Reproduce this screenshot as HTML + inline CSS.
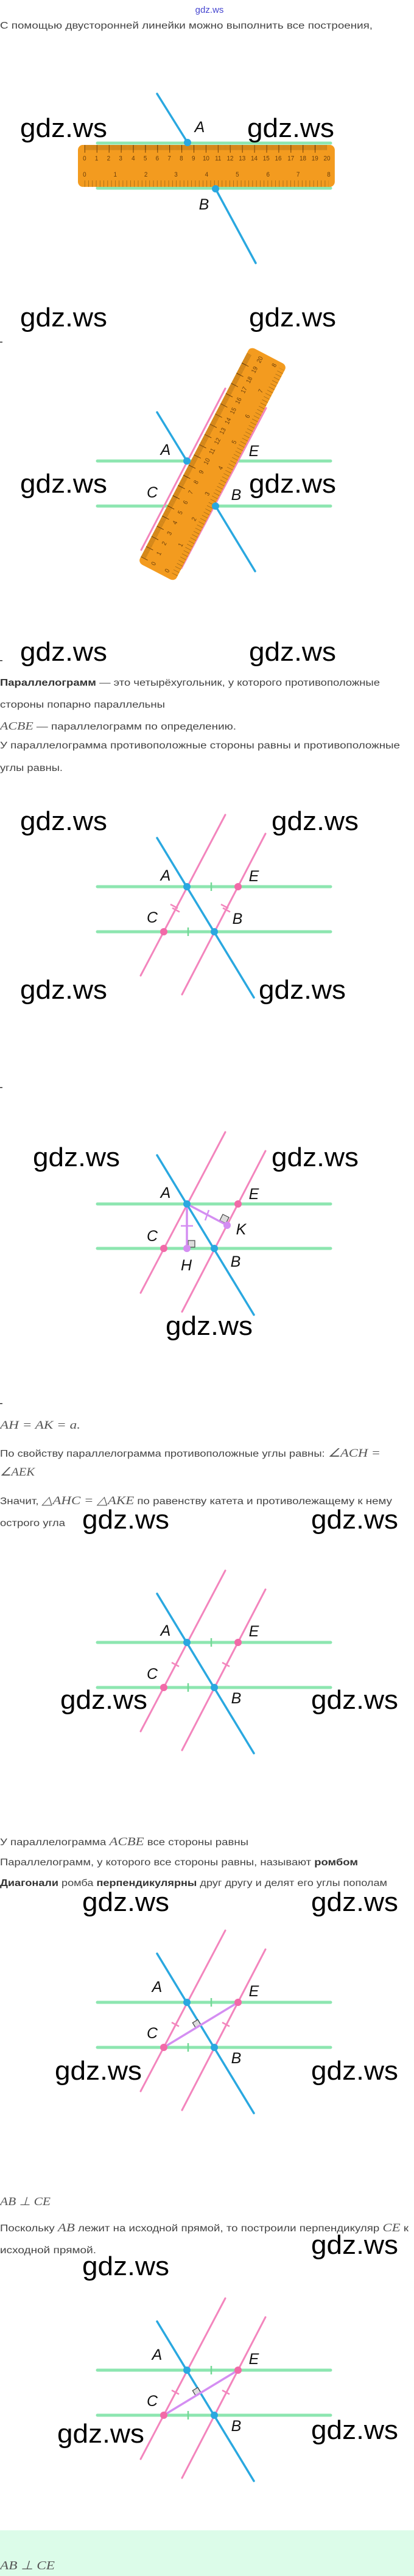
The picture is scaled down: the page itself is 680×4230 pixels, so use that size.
<!DOCTYPE html>
<html><head><meta charset="utf-8">
<style>
html,body{margin:0;padding:0;background:#fff;}
svg{display:block;}
.t{font-family:"Liberation Sans",sans-serif;font-size:15.5px;fill:#444;}
.m{font-family:"Liberation Serif",serif;font-style:italic;fill:#555;}
.b{font-weight:bold;fill:#333;}
.w{font-family:"Liberation Sans",sans-serif;font-size:44px;fill:#000;}
.l{font-family:"Liberation Sans Narrow","Liberation Sans",sans-serif;font-style:italic;font-size:25px;fill:#111;text-anchor:middle;}
.n{font-family:"Liberation Sans",sans-serif;font-size:10px;fill:#6b3e0a;text-anchor:middle;}
.g{stroke:#8de6b0;stroke-width:5;stroke-linecap:round;}
.p{stroke:#f385bd;stroke-width:3;stroke-linecap:round;}
.bl{stroke:#2aa8e0;stroke-width:3.5;stroke-linecap:round;}
.v{stroke:#d48ef2;stroke-width:3.5;stroke-linecap:round;}
.gt{stroke:#74d896;stroke-width:2.5;}
.pt{stroke:#f385bd;stroke-width:2.5;}
.ra{fill:#ddd;stroke:#444;stroke-width:1.2;}
</style></head>
<body>
<svg width="680" height="4230" viewBox="0 0 680 4230" xmlns="http://www.w3.org/2000/svg">
<rect x="0" y="4155" width="680" height="75" fill="#dcfce9"/>

<text x="344" y="21" font-family="Liberation Sans, sans-serif" font-size="15" fill="#4646d0" text-anchor="middle">gdz.ws</text>
<text class="t" x="0" y="47" textLength="612" lengthAdjust="spacingAndGlyphs">С помощью двусторонней линейки можно выполнить все построения,</text>

<!-- Diagram 1 -->
<line class="g" x1="160" y1="235" x2="543" y2="235"/>
<line class="g" x1="160" y1="309" x2="543" y2="309"/>
<g transform="translate(128,238) scale(0.988,1.06)">
<rect x="0" y="0" width="427" height="65" rx="8" fill="#f39b1f"/>
<line x1="11" y1="4" x2="414" y2="4" stroke="#8a5a12" stroke-width="8" stroke-dasharray="0.8 1.2" opacity="0.7"/>
<line x1="11" y1="6" x2="414" y2="6" stroke="#6b3e0a" stroke-width="12" stroke-dasharray="1 19.15"/>
<line x1="11" y1="60" x2="417" y2="60" stroke="#8a5a12" stroke-width="10" stroke-dasharray="0.8 5.54" opacity="0.8"/>
<g class="n">
<text x="11" y="24">0</text><text x="31" y="24">1</text><text x="51" y="24">2</text><text x="71" y="24">3</text><text x="92" y="24">4</text><text x="112" y="24">5</text><text x="132" y="24">6</text><text x="152" y="24">7</text><text x="172" y="24">8</text><text x="192" y="24">9</text><text x="213" y="24">10</text><text x="233" y="24">11</text><text x="253" y="24">12</text><text x="273" y="24">13</text><text x="293" y="24">14</text><text x="313" y="24">15</text><text x="333" y="24">16</text><text x="354" y="24">17</text><text x="374" y="24">18</text><text x="394" y="24">19</text><text x="414" y="24">20</text>
<text x="11" y="49">0</text><text x="62" y="49">1</text><text x="113" y="49">2</text><text x="163" y="49">3</text><text x="214" y="49">4</text><text x="265" y="49">5</text><text x="316" y="49">6</text><text x="366" y="49">7</text><text x="417" y="49">8</text>
</g>
</g>
<line class="bl" x1="258" y1="154" x2="308" y2="234"/>
<line class="bl" x1="354" y1="310" x2="420" y2="432"/>
<circle cx="308" cy="234" r="6" fill="#2aa8e0"/>
<circle cx="354" cy="310" r="6" fill="#2aa8e0"/>
<text class="l" x="328" y="217">A</text>
<text class="l" x="335" y="344">B</text>
<text class="w" x="33" y="225" textLength="143" lengthAdjust="spacingAndGlyphs">gdz.ws</text>
<text class="w" x="406" y="225" textLength="143" lengthAdjust="spacingAndGlyphs">gdz.ws</text>

<!-- Diagram 2 (ruler) -->
<text class="w" x="33" y="536" textLength="143" lengthAdjust="spacingAndGlyphs">gdz.ws</text>
<text class="w" x="409" y="536" textLength="143" lengthAdjust="spacingAndGlyphs">gdz.ws</text>
<rect x="0" y="561" width="4" height="1.5" fill="#333"/>
<line class="g" x1="160" y1="757" x2="543" y2="757"/>
<line class="g" x1="160" y1="831" x2="543" y2="831"/>
<line class="p" x1="232" y1="903" x2="370" y2="638"/>
<line class="p" x1="298" y1="933" x2="437" y2="670"/>
<g transform="translate(349,762) rotate(-62.5) translate(-200,-34) scale(0.937,1.046)">
<rect x="0" y="0" width="427" height="65" rx="8" fill="#f39b1f"/>
<line x1="11" y1="4" x2="414" y2="4" stroke="#8a5a12" stroke-width="8" stroke-dasharray="0.8 1.2" opacity="0.7"/>
<line x1="11" y1="6" x2="414" y2="6" stroke="#6b3e0a" stroke-width="12" stroke-dasharray="1 19.15"/>
<line x1="11" y1="60" x2="417" y2="60" stroke="#8a5a12" stroke-width="10" stroke-dasharray="0.8 5.54" opacity="0.8"/>
<g class="n">
<text x="11" y="26">0</text><text x="31" y="26">1</text><text x="51" y="26">2</text><text x="71" y="26">3</text><text x="92" y="26">4</text><text x="112" y="26">5</text><text x="132" y="26">6</text><text x="152" y="26">7</text><text x="172" y="26">8</text><text x="192" y="26">9</text><text x="213" y="26">10</text><text x="233" y="26">11</text><text x="253" y="26">12</text><text x="273" y="26">13</text><text x="293" y="26">14</text><text x="313" y="26">15</text><text x="333" y="26">16</text><text x="354" y="26">17</text><text x="374" y="26">18</text><text x="394" y="26">19</text><text x="414" y="26">20</text>
<text x="11" y="50">0</text><text x="62" y="50">1</text><text x="113" y="50">2</text><text x="163" y="50">3</text><text x="214" y="50">4</text><text x="265" y="50">5</text><text x="316" y="50">6</text><text x="366" y="50">7</text><text x="417" y="50">8</text>
</g>
</g>
<line class="bl" x1="258" y1="677" x2="307" y2="757"/>
<line class="bl" x1="354" y1="831" x2="419" y2="938"/>
<circle cx="307" cy="757" r="6" fill="#2aa8e0"/>
<circle cx="354" cy="831" r="6" fill="#2aa8e0"/>
<text class="l" x="272" y="747">A</text>
<text class="l" x="417" y="749">E</text>
<text class="l" x="250" y="817">C</text>
<text class="l" x="388" y="821">B</text>
<text class="w" x="33" y="809" textLength="143" lengthAdjust="spacingAndGlyphs">gdz.ws</text>
<text class="w" x="409" y="809" textLength="143" lengthAdjust="spacingAndGlyphs">gdz.ws</text>
<rect x="0" y="1084" width="4" height="1.5" fill="#333"/>
<text class="w" x="33" y="1085" textLength="143" lengthAdjust="spacingAndGlyphs">gdz.ws</text>
<text class="w" x="409" y="1085" textLength="143" lengthAdjust="spacingAndGlyphs">gdz.ws</text>

<text class="t" x="0" y="1126" textLength="624" lengthAdjust="spacingAndGlyphs"><tspan class="b">Параллелограмм</tspan> — это четырёхугольник, у которого противоположные</text>
<text class="t" x="0" y="1162" textLength="271" lengthAdjust="spacingAndGlyphs">стороны попарно параллельны</text>
<text class="t" x="0" y="1198" textLength="388" lengthAdjust="spacingAndGlyphs"><tspan class="m" font-size="18">ACBE</tspan> — параллелограмм по определению.</text>
<text class="t" x="0" y="1229" textLength="657" lengthAdjust="spacingAndGlyphs">У параллелограмма противоположные стороны равны и противоположные</text>
<text class="t" x="0" y="1266" textLength="103" lengthAdjust="spacingAndGlyphs">углы равны.</text>

<!-- Diagram 3: Y=1456 -->
<text class="w" x="33" y="1363" textLength="143" lengthAdjust="spacingAndGlyphs">gdz.ws</text>
<text class="w" x="446" y="1363" textLength="143" lengthAdjust="spacingAndGlyphs">gdz.ws</text>
<g transform="translate(-4,1456)">
<line class="g" x1="164" y1="0" x2="547" y2="0"/>
<line class="g" x1="164" y1="74" x2="547" y2="74"/>
<line class="p" x1="235" y1="146" x2="374" y2="-118"/>
<line class="p" x1="303" y1="177" x2="440" y2="-87"/>
<line class="bl" x1="262" y1="-80" x2="421" y2="182"/>
<line class="gt" x1="351" y1="-7" x2="351" y2="7"/>
<line class="gt" x1="313" y1="67" x2="313" y2="81"/>
<line class="pt" x1="284" y1="29" x2="296" y2="35.5"/>
<line class="pt" x1="287" y1="35" x2="299" y2="41.5"/>
<line class="pt" x1="367" y1="29" x2="379" y2="35.5"/>
<line class="pt" x1="370" y1="35" x2="382" y2="41.5"/>
<circle cx="311" cy="0" r="6" fill="#2aa8e0"/>
<circle cx="356" cy="74" r="6" fill="#2aa8e0"/>
<circle cx="395" cy="0" r="6" fill="#f26aa8"/>
<circle cx="273" cy="74" r="6" fill="#f26aa8"/>
<text class="l" x="276" y="-10">A</text>
<text class="l" x="421" y="-9">E</text>
<text class="l" x="254" y="59">C</text>
<text class="l" x="394" y="61">B</text>
</g>
<text class="w" x="33" y="1640" textLength="143" lengthAdjust="spacingAndGlyphs">gdz.ws</text>
<text class="w" x="425" y="1640" textLength="143" lengthAdjust="spacingAndGlyphs">gdz.ws</text>
<rect x="0" y="1785" width="4" height="1.5" fill="#333"/>

<!-- Diagram 4: Y=1977 -->
<text class="w" x="54" y="1915" textLength="143" lengthAdjust="spacingAndGlyphs">gdz.ws</text>
<text class="w" x="446" y="1915" textLength="143" lengthAdjust="spacingAndGlyphs">gdz.ws</text>
<g transform="translate(-4,1977)">
<line class="g" x1="164" y1="0" x2="547" y2="0"/>
<line class="g" x1="164" y1="73" x2="547" y2="73"/>
<line class="p" x1="235" y1="146" x2="374" y2="-118"/>
<line class="p" x1="303" y1="177" x2="440" y2="-87"/>
<line class="bl" x1="262" y1="-80" x2="421" y2="182"/>
<rect class="ra" x="313" y="60" width="11" height="11"/>
<path class="ra" d="M365 27 L370 17 L380 22 L375 32 Z"/>
<line class="v" x1="311" y1="0" x2="311" y2="72"/>
<line class="v" x1="311" y1="0" x2="377" y2="35"/>
<line x1="301" y1="36" x2="321" y2="36" stroke="#d48ef2" stroke-width="2.5"/>
<line x1="347" y1="10" x2="341" y2="27" stroke="#d48ef2" stroke-width="2.5"/>
<circle cx="311" cy="0" r="6" fill="#2aa8e0"/>
<circle cx="356" cy="73" r="6" fill="#2aa8e0"/>
<circle cx="395" cy="0" r="6" fill="#f26aa8"/>
<circle cx="273" cy="73" r="6" fill="#f26aa8"/>
<circle cx="311" cy="73" r="6" fill="#d48ef2"/>
<circle cx="377" cy="35" r="6" fill="#d48ef2"/>
<text class="l" x="276" y="-10">A</text>
<text class="l" x="421" y="-8">E</text>
<text class="l" x="254" y="61">C</text>
<text class="l" x="400" y="50">K</text>
<text class="l" x="310" y="109">H</text>
<text class="l" x="391" y="103">B</text>
</g>
<text class="w" x="272" y="2192" textLength="143" lengthAdjust="spacingAndGlyphs">gdz.ws</text>
<rect x="0" y="2304" width="4" height="1.5" fill="#333"/>

<text class="t" x="0" y="2346" textLength="132" lengthAdjust="spacingAndGlyphs"><tspan class="m" font-size="19">AH = AK = a.</tspan></text>
<text class="t" x="0" y="2392" textLength="625" lengthAdjust="spacingAndGlyphs">По свойству параллелограмма противоположные углы равны: <tspan class="m" font-size="19">∠ACH =</tspan></text>
<text class="t" x="0" y="2423" textLength="57" lengthAdjust="spacingAndGlyphs"><tspan class="m" font-size="19">∠AEK</tspan></text>
<text class="t" x="0" y="2470" textLength="644" lengthAdjust="spacingAndGlyphs">Значит, <tspan class="m" font-size="19">△AHC = △AKE</tspan> по равенству катета и противолежащему к нему</text>
<text class="t" x="0" y="2506" textLength="107" lengthAdjust="spacingAndGlyphs">острого угла</text>

<!-- Diagram 5: Y=2697 -->
<text class="w" x="135" y="2510" textLength="143" lengthAdjust="spacingAndGlyphs">gdz.ws</text>
<text class="w" x="511" y="2510" textLength="143" lengthAdjust="spacingAndGlyphs">gdz.ws</text>
<g transform="translate(-4,2697)">
<line class="g" x1="164" y1="0" x2="547" y2="0"/>
<line class="g" x1="164" y1="74" x2="547" y2="74"/>
<line class="p" x1="235" y1="146" x2="374" y2="-118"/>
<line class="p" x1="303" y1="177" x2="440" y2="-87"/>
<line class="bl" x1="262" y1="-80" x2="421" y2="182"/>
<line class="gt" x1="351" y1="-7" x2="351" y2="7"/>
<line class="gt" x1="313" y1="67" x2="313" y2="81"/>
<line class="pt" x1="286" y1="33" x2="298" y2="39.5"/>
<line class="pt" x1="369" y1="33" x2="381" y2="39.5"/>
<circle cx="311" cy="0" r="6" fill="#2aa8e0"/>
<circle cx="356" cy="74" r="6" fill="#2aa8e0"/>
<circle cx="395" cy="0" r="6" fill="#f26aa8"/>
<circle cx="273" cy="74" r="6" fill="#f26aa8"/>
<text class="l" x="276" y="-11">A</text>
<text class="l" x="421" y="-10">E</text>
<text class="l" x="254" y="60">C</text>
<text class="l" x="392" y="100">B</text>
</g>
<text class="w" x="99" y="2806" textLength="143" lengthAdjust="spacingAndGlyphs">gdz.ws</text>
<text class="w" x="511" y="2806" textLength="143" lengthAdjust="spacingAndGlyphs">gdz.ws</text>

<text class="t" x="0" y="3030" textLength="408" lengthAdjust="spacingAndGlyphs">У параллелограмма <tspan class="m" font-size="19">ACBE</tspan> все стороны равны</text>
<text class="t" x="0" y="3063" textLength="588" lengthAdjust="spacingAndGlyphs">Параллелограмм, у которого все стороны равны, называют <tspan class="b">ромбом</tspan></text>
<text class="t" x="0" y="3097" textLength="636" lengthAdjust="spacingAndGlyphs"><tspan class="b">Диагонали</tspan> ромба <tspan class="b">перпендикулярны</tspan> друг другу и делят его углы пополам</text>

<!-- Diagram 6: Y=3288 -->
<text class="w" x="135" y="3138" textLength="143" lengthAdjust="spacingAndGlyphs">gdz.ws</text>
<text class="w" x="511" y="3138" textLength="143" lengthAdjust="spacingAndGlyphs">gdz.ws</text>
<g transform="translate(-4,3288)">
<line class="g" x1="164" y1="0" x2="547" y2="0"/>
<line class="g" x1="164" y1="74" x2="547" y2="74"/>
<line class="p" x1="235" y1="146" x2="374" y2="-118"/>
<line class="p" x1="303" y1="177" x2="440" y2="-87"/>
<line class="bl" x1="262" y1="-80" x2="421" y2="182"/>
<path class="ra" d="M334 37 L325.5 42 L320.3 33.6 L328.8 28.5 Z"/>
<line class="v" x1="273" y1="74" x2="395" y2="0"/>
<line class="gt" x1="351" y1="-7" x2="351" y2="7"/>
<line class="gt" x1="313" y1="67" x2="313" y2="81"/>
<line class="pt" x1="286" y1="33" x2="298" y2="39.5"/>
<line class="pt" x1="369" y1="33" x2="381" y2="39.5"/>
<circle cx="311" cy="0" r="6" fill="#2aa8e0"/>
<circle cx="356" cy="74" r="6" fill="#2aa8e0"/>
<circle cx="395" cy="0" r="6" fill="#f26aa8"/>
<circle cx="273" cy="74" r="6" fill="#f26aa8"/>
<text class="l" x="262" y="-17">A</text>
<text class="l" x="421" y="-10">E</text>
<text class="l" x="254" y="59">C</text>
<text class="l" x="392" y="100">B</text>
</g>
<text class="w" x="90" y="3415" textLength="143" lengthAdjust="spacingAndGlyphs">gdz.ws</text>
<text class="w" x="511" y="3415" textLength="143" lengthAdjust="spacingAndGlyphs">gdz.ws</text>

<text class="t" x="0" y="3621" textLength="83" lengthAdjust="spacingAndGlyphs"><tspan class="m" font-size="19">AB ⊥ CE</tspan></text>
<text class="t" x="0" y="3664" textLength="671" lengthAdjust="spacingAndGlyphs">Поскольку <tspan class="m" font-size="19">AB</tspan> лежит на исходной прямой, то построили перпендикуляр <tspan class="m" font-size="19">CE</tspan> к</text>
<text class="t" x="0" y="3700" textLength="158" lengthAdjust="spacingAndGlyphs">исходной прямой.</text>

<!-- Diagram 7: Y=3892 -->
<text class="w" x="511" y="3701" textLength="143" lengthAdjust="spacingAndGlyphs">gdz.ws</text>
<text class="w" x="135" y="3736" textLength="143" lengthAdjust="spacingAndGlyphs">gdz.ws</text>
<g transform="translate(-4,3892)">
<line class="g" x1="164" y1="0" x2="547" y2="0"/>
<line class="g" x1="164" y1="74" x2="547" y2="74"/>
<line class="p" x1="235" y1="146" x2="374" y2="-118"/>
<line class="p" x1="303" y1="177" x2="440" y2="-87"/>
<line class="bl" x1="262" y1="-80" x2="421" y2="182"/>
<path class="ra" d="M334 37 L325.5 42 L320.3 33.6 L328.8 28.5 Z"/>
<line class="v" x1="273" y1="74" x2="395" y2="0"/>
<line class="gt" x1="351" y1="-7" x2="351" y2="7"/>
<line class="gt" x1="313" y1="67" x2="313" y2="81"/>
<line class="pt" x1="286" y1="33" x2="298" y2="39.5"/>
<line class="pt" x1="369" y1="33" x2="381" y2="39.5"/>
<circle cx="311" cy="0" r="6" fill="#2aa8e0"/>
<circle cx="356" cy="74" r="6" fill="#2aa8e0"/>
<circle cx="395" cy="0" r="6" fill="#f26aa8"/>
<circle cx="273" cy="74" r="6" fill="#f26aa8"/>
<text class="l" x="262" y="-17">A</text>
<text class="l" x="421" y="-10">E</text>
<text class="l" x="254" y="59">C</text>
<text class="l" x="392" y="100">B</text>
</g>
<text class="w" x="94" y="4011" textLength="143" lengthAdjust="spacingAndGlyphs">gdz.ws</text>
<text class="w" x="511" y="4005" textLength="143" lengthAdjust="spacingAndGlyphs">gdz.ws</text>

<text class="t" x="0" y="4219" textLength="90" lengthAdjust="spacingAndGlyphs"><tspan class="m" font-size="20">AB ⊥ CE</tspan></text>
</svg>
</body></html>
